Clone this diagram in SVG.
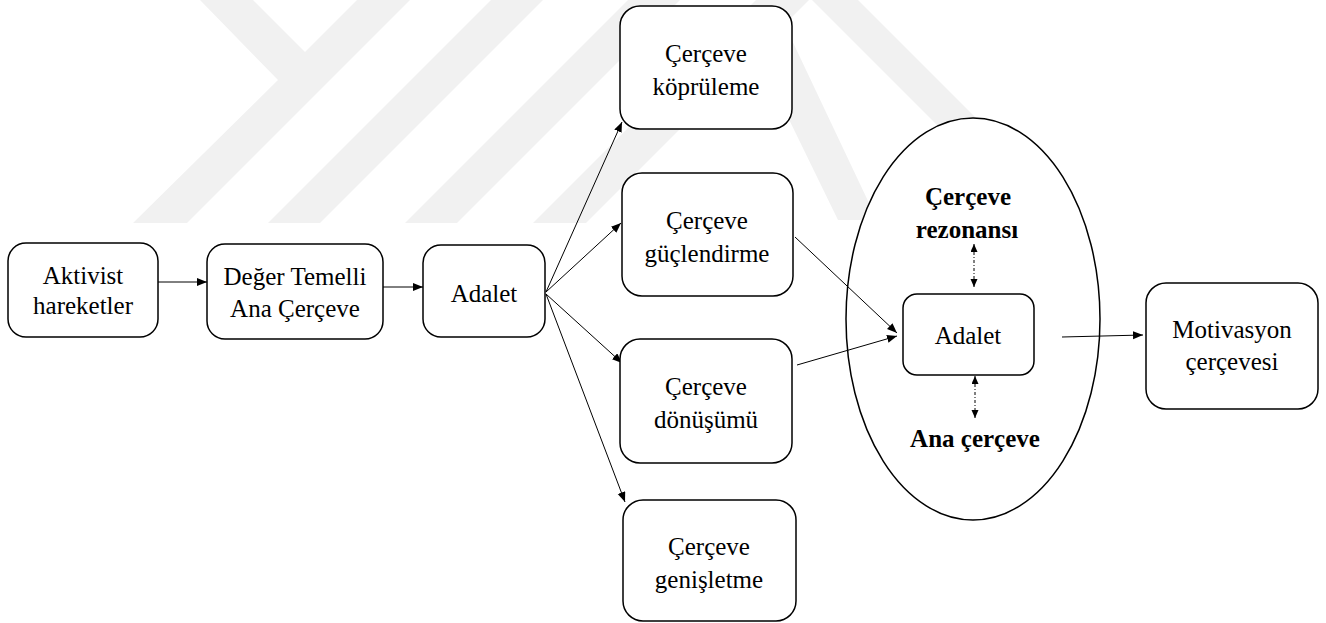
<svg xmlns="http://www.w3.org/2000/svg" width="1326" height="623" viewBox="0 0 1326 623">
  <defs>
    <marker id="ah" markerUnits="userSpaceOnUse" markerWidth="11" markerHeight="9" refX="10" refY="4" orient="auto">
      <path d="M0,0 L10,4 L0,8 Z" fill="#000"/>
    </marker>
    <marker id="ahs" markerUnits="userSpaceOnUse" markerWidth="9" markerHeight="8" refX="8" refY="3.5" orient="auto-start-reverse">
      <path d="M0,0 L8,3.5 L0,7 Z" fill="#000"/>
    </marker>
    <style>
      .box { fill: #fff; stroke: #000; stroke-width: 1.5; }
      .t { font-family: 'Liberation Serif', 'Times New Roman', 'DejaVu Serif', serif; font-size: 25px; fill: #000; text-anchor: middle; }
      .b { font-weight: bold; }
      .c { fill: none; stroke: #000; stroke-width: 1; marker-end: url(#ah); }
      .d { fill: none; stroke: #000; stroke-width: 1; stroke-dasharray: 3 2 1 2; marker-start: url(#ahs); marker-end: url(#ahs); }
      .wm { fill: #f1f1f1; }
    </style>
  </defs>
  <rect width="1326" height="623" fill="#fff"/>
  <g id="watermark">
    <polygon class="wm" points="200,0 253,0 305,52 357,0 410,0 187,223 133,223 278,80"/>
    <polygon class="wm" points="268,223 320,223 543,0 491,0"/>
    <polygon class="wm" points="405,223 457,223 680,0 628,0"/>
    <polygon class="wm" points="533,223 586,223 809,0 756,0"/>
    <polygon class="wm" points="812,0 858,0 990,132 944,132"/>
    <polygon class="wm" points="780,15 877,220 838,220 760,60"/>
  </g>
  <g id="ellipse-group">
    <ellipse cx="973" cy="319" rx="127" ry="201" fill="#fff" stroke="#000" stroke-width="1.5"/>
  </g>
  <g id="connectors">
    <line class="c" x1="158" y1="282" x2="207" y2="282"/>
    <line class="c" x1="383" y1="287" x2="423" y2="287"/>
    <line class="c" x1="546" y1="292" x2="622" y2="122"/>
    <line class="c" x1="546" y1="292" x2="621" y2="223"/>
    <line class="c" x1="546" y1="294" x2="622" y2="363"/>
    <line class="c" x1="546" y1="294" x2="625" y2="502"/>
    <line class="c" x1="795" y1="237" x2="897" y2="333"/>
    <line class="c" x1="797" y1="365" x2="897" y2="336"/>
    <line class="c" x1="1062" y1="337" x2="1143" y2="335"/>
    <line class="d" x1="974" y1="244" x2="974" y2="287"/>
    <line class="d" x1="975" y1="376" x2="975" y2="418"/>
  </g>
  <g font-family="'Liberation Serif', 'Times New Roman', serif">
  <g id="n-aktivist">
    <rect class="box" x="8" y="243" width="150" height="94" rx="18"/>
    <text class="t" x="83" y="284">Aktivist</text>
    <text class="t" x="83" y="314">hareketler</text>
  </g>
  <g id="n-deger">
    <rect class="box" x="207" y="244" width="176" height="95" rx="18"/>
    <text class="t" x="295" y="285">Değer Temelli</text>
    <text class="t" x="295" y="317">Ana Çerçeve</text>
  </g>
  <g id="n-adalet">
    <rect class="box" x="423" y="245" width="122" height="92" rx="18"/>
    <text class="t" x="484" y="302">Adalet</text>
  </g>
  <g id="n-kopruleme">
    <rect class="box" x="620" y="6" width="172" height="123" rx="20"/>
    <text class="t" x="706" y="62">Çerçeve</text>
    <text class="t" x="706" y="95">köprüleme</text>
  </g>
  <g id="n-guclendirme">
    <rect class="box" x="622" y="173" width="171" height="123" rx="20"/>
    <text class="t" x="707" y="229">Çerçeve</text>
    <text class="t" x="707" y="262">güçlendirme</text>
  </g>
  <g id="n-donusumu">
    <rect class="box" x="620" y="339" width="172" height="124" rx="20"/>
    <text class="t" x="706" y="395">Çerçeve</text>
    <text class="t" x="706" y="428">dönüşümü</text>
  </g>
  <g id="n-genisletme">
    <rect class="box" x="623" y="500" width="173" height="121" rx="20"/>
    <text class="t" x="709" y="555">Çerçeve</text>
    <text class="t" x="709" y="588">genişletme</text>
  </g>
  <g id="n-rezonans">
    <text class="t b" x="968" y="205">Çerçeve</text>
    <text class="t b" x="967" y="238">rezonansı</text>
  </g>
  <g id="n-adalet2">
    <rect class="box" x="903" y="294" width="131" height="81" rx="14"/>
    <text class="t" x="968" y="344">Adalet</text>
  </g>
  <g id="n-anacerceve">
    <text class="t b" x="975" y="447">Ana çerçeve</text>
  </g>
  <g id="n-motivasyon">
    <rect class="box" x="1146" y="283" width="172" height="126" rx="20"/>
    <text class="t" x="1232" y="338">Motivasyon</text>
    <text class="t" x="1232" y="370">çerçevesi</text>
  </g>
  </g>
</svg>
